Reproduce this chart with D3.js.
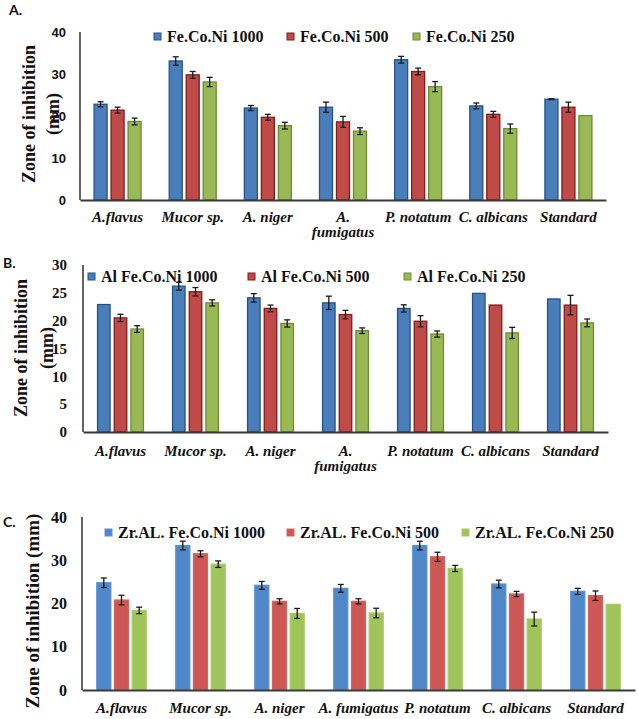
<!DOCTYPE html>
<html>
<head>
<meta charset="utf-8">
<script src="https://cdn.jsdelivr.net/npm/d3@7"></script>
<style>
  html, body { margin: 0; padding: 0; background: #ffffff; }
  svg { display: block; }
  .serif { font-family: "Liberation Serif", "Times New Roman", Times, "DejaVu Serif", serif; }
  .sans { font-family: "Liberation Sans", Arial, Helvetica, sans-serif; }
  .letter { font-family: Lato, "Open Sans", sans-serif; }
</style>
</head>
<body>
<svg id="chart" width="638" height="719"></svg>
<script>
// ---------- DATA ----------
const categories = ["A.flavus", "Mucor sp.", "A. niger", "A. fumigatus", "P. notatum", "C. albicans", "Standard"];

const seriesA = ["Fe.Co.Ni 1000", "Fe.Co.Ni 500", "Fe.Co.Ni 250"];
const valuesA1000 = [22.8, 33.1, 21.9, 22.1, 33.4, 22.4, 24.0];
const valuesA500  = [21.4, 29.8, 19.7, 18.6, 30.6, 20.4, 22.1];
const valuesA250  = [18.7, 28.1, 17.7, 16.4, 27.0, 17.0, 20.1];
const errorsA1000 = [0.6, 1.0, 0.6, 1.2, 0.8, 0.7, 0.1];
const errorsA500  = [0.7, 0.8, 0.7, 1.3, 0.8, 0.7, 1.2];
const errorsA250  = [0.8, 1.1, 0.8, 0.8, 1.2, 1.1, 0.0];
const ticksA = [0, 10, 20, 30, 40];

const seriesB = ["Al Fe.Co.Ni 1000", "Al Fe.Co.Ni 500", "Al Fe.Co.Ni 250"];
const valuesB1000 = [22.9, 26.2, 24.1, 23.2, 22.2, 24.9, 23.9];
const valuesB500  = [20.5, 25.2, 22.2, 21.1, 19.9, 22.8, 22.8];
const valuesB250  = [18.5, 23.2, 19.5, 18.2, 17.6, 17.8, 19.6];
const errorsB1000 = [0.0, 0.7, 0.75, 1.2, 0.65, 0.0, 0.0];
const errorsB500  = [0.65, 0.75, 0.6, 0.75, 1.0, 0.0, 1.75];
const errorsB250  = [0.6, 0.55, 0.65, 0.5, 0.55, 1.0, 0.7];
const ticksB = [0, 5, 10, 15, 20, 25, 30];

const seriesC = ["Zr.AL. Fe.Co.Ni 1000", "Zr.AL. Fe.Co.Ni 500", "Zr.AL. Fe.Co.Ni 250"];
const valuesC1000 = [24.8, 33.4, 24.2, 23.5, 33.4, 24.5, 22.8];
const valuesC500  = [20.8, 31.5, 20.5, 20.5, 30.8, 22.2, 21.8];
const valuesC250  = [18.4, 29.1, 17.7, 17.8, 28.1, 16.4, 19.8];
const errorsC1000 = [1.1, 1.0, 0.9, 0.9, 1.0, 0.9, 0.7];
const errorsC500  = [1.1, 0.7, 0.6, 0.6, 1.05, 0.6, 1.1];
const errorsC250  = [0.75, 0.75, 1.15, 1.1, 0.7, 1.6, 0.0];
const ticksC = [0, 10, 20, 30, 40];

const yTitle = "Zone of inhibition";
const yUnit = "(mm)";

// ---------- STYLE / LAYOUT ----------
const fillsAB = ["#4a7ebb", "#be4b48", "#98b954"];
const strokesAB = ["#23528c", "#861a1a", "#6e8a35"];
const fillsC = ["#5087c8", "#cd5755", "#9fc45a"];
const strokesC = ["#5a8fd0", "#d46461", "#a8cb66"];

const svg = d3.select("#chart");

function drawPanel(p) {
  const g = svg.append("g");
  const x0 = d3.scaleBand().domain(categories).range([p.left, p.right]).padding(0);
  const pi = 1 - p.barWidth / p.step;
  const x1 = d3.scaleBand().domain(p.series)
    .range([-1.5 * p.step, 1.5 * p.step])
    .paddingInner(pi).paddingOuter(pi / 2);
  const y = d3.scaleLinear().domain([0, p.ymax]).range([p.bottom, p.top]);

  // bars
  p.series.forEach((s, si) => {
    const vals = p.values[si], errs = p.errors[si];
    const data = categories.map((c, ci) => ({ c, v: vals[ci], e: errs[ci] }));
    const sg = g.append("g");
    sg.selectAll("rect").data(data).enter().append("rect")
      .attr("x", d => x0(d.c) + x0.bandwidth() / 2 + x1(s))
      .attr("y", d => y(d.v))
      .attr("width", x1.bandwidth())
      .attr("height", d => y(0) - y(d.v))
      .attr("fill", p.fills[si])
      .attr("stroke", p.strokes[si])
      .attr("stroke-width", 1.3);
    const eg = sg.selectAll("g.err").data(data.filter(d => d.e > 0)).enter().append("g");
    const cx = d => x0(d.c) + x0.bandwidth() / 2 + x1(s) + x1.bandwidth() / 2;
    eg.append("line")
      .attr("x1", cx).attr("x2", cx)
      .attr("y1", d => y(d.v + d.e)).attr("y2", d => y(d.v - d.e))
      .attr("stroke", "#1a1a1a").attr("stroke-width", 1.3);
    eg.append("line")
      .attr("x1", d => cx(d) - 3).attr("x2", d => cx(d) + 3)
      .attr("y1", d => y(d.v + d.e)).attr("y2", d => y(d.v + d.e))
      .attr("stroke", "#1a1a1a").attr("stroke-width", 1.3);
    eg.append("line")
      .attr("x1", d => cx(d) - 3).attr("x2", d => cx(d) + 3)
      .attr("y1", d => y(d.v - d.e)).attr("y2", d => y(d.v - d.e))
      .attr("stroke", "#1a1a1a").attr("stroke-width", 1.3);
  });

  // y axis
  const yAxis = d3.axisLeft(y).tickValues(p.ticks).tickSize(0).tickPadding(p.tickPad);
  const ya = g.append("g").attr("transform", `translate(${p.left},0)`).call(yAxis);
  ya.attr("font-family", null).attr("font-size", null);
  ya.select(".domain").remove();
  ya.selectAll("text")
    .attr("class", p.tickClass).attr("font-weight", "bold")
    .style("font-size", p.tickSize + "px").attr("fill", "#111");
  g.append("line").attr("x1", p.left).attr("x2", p.left)
    .attr("y1", y(p.ymax)).attr("y2", y(0))
    .attr("stroke", "#111").attr("stroke-width", 1.3);

  // x axis
  const xAxis = d3.axisBottom(x0).tickSize(0).tickFormat("");
  const xa = g.append("g").attr("transform", `translate(0,${p.bottom})`).call(xAxis);
  xa.attr("font-family", null).attr("font-size", null);
  xa.select(".domain").attr("stroke", "#3a3a3a").attr("stroke-width", 2);
  xa.selectAll(".tick").each(function (d) {
    const t = d3.select(this).append("text")
      .attr("class", "serif").attr("font-weight", "bold").attr("font-style", "italic")
      .style("font-size", "15px").attr("fill", "#111").attr("text-anchor", "middle");
    const parts = (p.wrap && d === "A. fumigatus") ? d.split(" ") : [d];
    parts.forEach((part, i) => {
      t.append("tspan").attr("x", 0).attr("y", p.labelDy + i * 15).text(part);
    });
  });

  // y title
  p.yTitleLines.forEach((line, i) => {
    g.append("text")
      .attr("transform", `translate(${p.yTitleX[i]},${p.yTitleY}) rotate(-90)`)
      .attr("text-anchor", "middle").attr("dominant-baseline", "central")
      .attr("class", "serif").attr("font-weight", "bold")
      .style("font-size", p.yTitleSize + "px").attr("fill", "#111")
      .text(line);
  });

  // panel letter
  g.append("text").attr("x", p.letterX).attr("y", p.letterY)
    .attr("class", "letter").attr("font-weight", "bold")
    .style("font-size", "14px").attr("fill", "#111").text(p.letter);

  // legend
  p.series.forEach((s, si) => {
    const lx = p.legendX[si];
    g.append("rect").attr("x", lx).attr("y", p.legendY - 9).attr("width", 7).attr("height", 7)
      .attr("fill", p.fills[si]).attr("stroke", p.strokes[si]).attr("stroke-width", 1);
    g.append("text").attr("x", lx + 13).attr("y", p.legendY)
      .attr("class", "serif").attr("font-weight", "bold")
      .style("font-size", "16px").attr("fill", "#111").text(s);
  });
}

drawPanel({
  letter: "A.", letterX: 9, letterY: 15,
  left: 80, right: 606, top: 32, bottom: 200, ymax: 40, ticks: ticksA,
  step: 17, barWidth: 13,
  series: seriesA,
  values: [valuesA1000, valuesA500, valuesA250],
  errors: [errorsA1000, errorsA500, errorsA250],
  fills: fillsAB, strokes: strokesAB,
  tickClass: "sans", tickSize: 13, tickPad: 14,
  wrap: true, labelDy: 22,
  yTitleLines: [yTitle, yUnit], yTitleX: [29, 53], yTitleY: 114, yTitleSize: 18,
  legendX: [154, 287, 413], legendY: 42
});

drawPanel({
  letter: "B.", letterX: 3, letterY: 268,
  left: 83, right: 608, top: 265, bottom: 432, ymax: 30, ticks: ticksB,
  step: 16.7, barWidth: 12.5,
  series: seriesB,
  values: [valuesB1000, valuesB500, valuesB250],
  errors: [errorsB1000, errorsB500, errorsB250],
  fills: fillsAB, strokes: strokesAB,
  tickClass: "serif", tickSize: 15, tickPad: 16,
  wrap: true, labelDy: 24,
  yTitleLines: [yTitle, yUnit], yTitleX: [21, 47], yTitleY: 348, yTitleSize: 18,
  legendX: [88, 248, 404], legendY: 282
});

drawPanel({
  letter: "C.", letterX: 3, letterY: 527,
  left: 82, right: 635, top: 517, bottom: 690, ymax: 40, ticks: ticksC,
  step: 17.7, barWidth: 14,
  series: seriesC,
  values: [valuesC1000, valuesC500, valuesC250],
  errors: [errorsC1000, errorsC500, errorsC250],
  fills: fillsC, strokes: strokesC,
  tickClass: "serif", tickSize: 16, tickPad: 15,
  wrap: false, labelDy: 23,
  yTitleLines: [yTitle + " " + yUnit], yTitleX: [32], yTitleY: 611, yTitleSize: 19,
  legendX: [105, 287, 462], legendY: 538
});
</script>
</body>
</html>
